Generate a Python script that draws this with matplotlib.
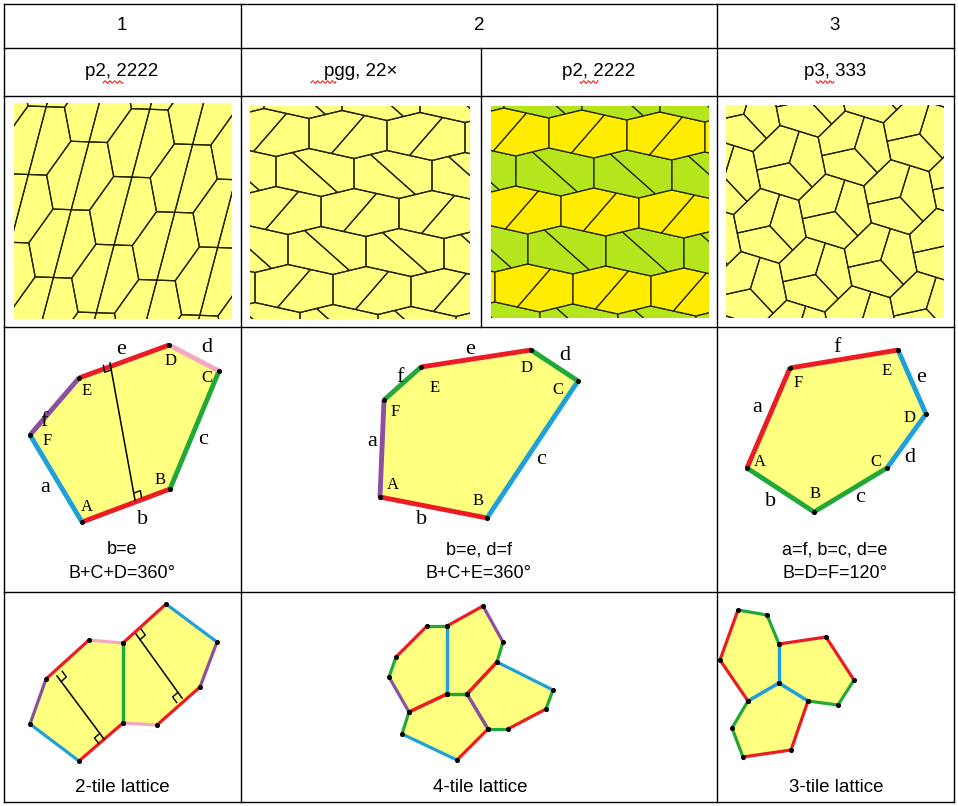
import numpy as np
import matplotlib.pyplot as plt
from matplotlib.patches import Polygon, Rectangle

# ---- data ----
header = ['1', '2', '3']
groups = ['p2, 2222', 'pgg, 22×', 'p2, 2222', 'p3, 333']
captions = [['b=e', 'B+C+D=360°'], ['b=e, d=f', 'B+C+E=360°'], ['a=f, b=c, d=e', 'B=D=F=120°']]
lattice_names = ['2-tile lattice', '4-tile lattice', '3-tile lattice']

RED, BLUE, GREEN, PINK, PURP = '#ec1c24', '#1ea0dc', '#22a83a', '#f4a8bf', '#8f4fa0'
TILE = '#ffff80'

# single pentagons (vertices A..F, edge colours a..f starting with F-A)
pent1 = [(82, 522), (170, 489), (219, 371), (169, 345), (79, 378), (30, 435)]
pent1_cols = [RED, GREEN, PINK, RED, PURP, BLUE]   # AB, BC, CD, DE, EF, FA
pent2 = [(380, 497), (487, 518), (578, 381), (531, 350), (421, 367), (384, 400)]
pent2_cols = [RED, BLUE, GREEN, RED, GREEN, PURP]
pent3 = [(747, 468), (814, 512), (887, 468), (926, 414), (898, 350), (790, 368)]
pent3_cols = [GREEN, GREEN, BLUE, BLUE, RED, RED]

vert_labels = [
    [('A', 87, 507), ('B', 160, 480), ('C', 207, 378), ('D', 171, 361), ('E', 87, 391), ('F', 47, 441)],
    [('A', 393, 485), ('B', 478, 501), ('C', 558, 390), ('D', 527, 368), ('E', 435, 388), ('F', 395, 412)],
    [('A', 760, 462), ('B', 815, 494), ('C', 876, 462), ('D', 910, 418), ('E', 887, 371), ('F', 798, 383)],
]
edge_labels = [
    [('a', 45, 487), ('b', 143, 519), ('c', 203, 440), ('d', 207, 348), ('e', 121, 349), ('f', 44, 422)],
    [('a', 372, 442), ('b', 422, 520), ('c', 541, 460), ('d', 565, 356), ('e', 470, 349), ('f', 400, 377)],
    [('a', 757, 408), ('b', 771, 501), ('c', 860, 498), ('d', 910, 457), ('e', 921, 378), ('f', 837, 348)],
]

# lattice tiles: vertex lists with edge colours (edge i = v[i] -> v[i+1])
lat1 = [
    ([(30, 724), (46, 679), (89, 640), (123, 643), (123, 723), (79, 761)], [PURP, RED, PINK, GREEN, RED, BLUE]),
    ([(123, 643), (166, 604), (217, 642), (200, 687), (157, 725), (123, 723)], [RED, BLUE, PURP, RED, PINK, GREEN]),
]
lat2 = [
    ([(389, 677), (396, 657), (427, 626), (447, 626), (447, 694), (409, 712)], [GREEN, RED, GREEN, BLUE, RED, PURP]),
    ([(447, 626), (483, 606), (503, 642), (497, 662), (467, 694), (447, 694)], [RED, PURP, GREEN, RED, GREEN, BLUE]),
    ([(409, 712), (447, 694), (467, 694), (488, 729), (457, 760), (402, 734)], [RED, GREEN, PURP, RED, BLUE, GREEN]),
    ([(497, 662), (553, 690), (546, 709), (508, 729), (488, 729), (467, 694)], [BLUE, GREEN, RED, GREEN, PURP, RED]),
]
lat3 = [
    ([(738, 610), (767, 615), (779, 644), (779, 683), (748, 701), (720, 660)], [GREEN, GREEN, BLUE, BLUE, RED, RED]),
    ([(779, 644), (826, 637), (854, 680), (838, 705), (808, 701), (779, 683)], [RED, RED, GREEN, GREEN, BLUE, BLUE]),
    ([(779, 683), (808, 701), (791, 750), (743, 757), (732, 728), (748, 701)], [BLUE, RED, RED, GREEN, GREEN, BLUE]),
]

# hexagon shapes used to build the tiling pictures
hex1 = [(20, -38), (-16, -32), (-33, 6), (-20, 38), (16, 32), (33, -6)]
hex2 = [(39, -14), (-6, -24), (-39, -16), (-39, 14), (6, 24), (39, 16)]
hex3 = [(20, -33), (-20, -33), (-38, 0), (-20, 33), (20, 33), (38, 0)]

fig = plt.figure(figsize=(9.58, 8.06), dpi=100)
ax = fig.add_axes([0, 0, 1, 1])
ax.set_xlim(0, 958)
ax.set_ylim(806, 0)
ax.axis('off')

# ---- table grid ----
for y in [4, 48, 96, 327, 592, 802]:
    ax.plot([4, 954], [y, y], color='black', lw=1)
for x in [4, 241, 717, 954]:
    ax.plot([x, x], [4, 802], color='black', lw=1)
ax.plot([481, 481], [48, 327], color='black', lw=1)

sans = 'Liberation Sans'
serif = 'Liberation Serif'
for t, x in zip(header, [122, 479, 835]):
    ax.text(x, 26, t, ha='center', va='center', fontsize=13.5, family=sans)


def wavy(x0, x1, y):
    xs = np.linspace(x0, x1, int((x1 - x0) * 2))
    ax.plot(xs, y + 1.2 * np.sin(xs * 1.3), color='red', lw=0.7)


for t, x, wx in zip(groups, [122, 361, 599, 835], [(103, 123), (311, 336), (580, 598), (816, 834)]):
    ax.text(x, 72, t, ha='center', va='center', fontsize=13.5, family=sans)
    wavy(wx[0], wx[1], 82)


# ---- tiling images ----
def tiling(x0, y0, w, h, hexv, splits, fills=None, rows_alt=None, rot=0.0):
    clip = Rectangle((x0, y0), w, h, facecolor=TILE if fills is None else 'none', edgecolor='none')
    ax.add_patch(clip)
    c, s = np.cos(rot), np.sin(rot)
    R = np.array([[c, -s], [s, c]])
    P = np.array(hexv, float) @ R.T
    t1 = P[0] + P[5]
    t2 = P[0] + P[1]
    cx, cy = x0 + w / 2, y0 + h / 2
    for i in range(-12, 13):
        for j in range(-12, 13):
            ctr = np.array([cx, cy]) + i * t1 + j * t2
            if abs(ctr[0] - cx) > w or abs(ctr[1] - cy) > h:
                continue
            V = P + ctr
            sp = splits if rows_alt is None else rows_alt[j % 2]
            for poly in sp(V, ctr):
                fc = 'none' if fills is None else fills[j % 2]
                pg = Polygon(poly, closed=True, facecolor=fc, edgecolor='#222200', lw=0.9)
                ax.add_patch(pg)
                pg.set_clip_path(clip)


def mid(a, b):
    return (a + b) / 2


def split_two(V, ctr):
    m1, m2 = mid(V[0], V[1]), mid(V[3], V[4])
    return [[m1, V[1], V[2], V[3], m2], [m2, V[4], V[5], V[0], m1]]


def split_two_b(V, ctr):
    m1, m2 = mid(V[1], V[2]), mid(V[4], V[5])
    return [[m1, V[2], V[3], V[4], m2], [m2, V[5], V[0], V[1], m1]]


def split_three(V, ctr):
    m = [mid(V[0], V[1]), mid(V[2], V[3]), mid(V[4], V[5])]
    return [[ctr, m[0], V[1], V[2], m[1]], [ctr, m[1], V[3], V[4], m[2]], [ctr, m[2], V[5], V[0], m[0]]]


tiling(14, 103, 218, 216, hex1, split_two, rot=0.2)
tiling(250, 106, 220, 213, hex2, None, rows_alt=[split_two, split_two_b])
tiling(491, 106, 218, 212, hex2, None, rows_alt=[split_two, split_two_b], fills=['#ffec00', '#b5e61d'])
tiling(726, 105, 218, 213, hex3, split_three, rot=0.3)


# ---- pentagon diagrams ----
def draw_tile(verts, cols, lw=3):
    V = np.array(verts, float)
    ax.add_patch(Polygon(V, closed=True, facecolor=TILE, edgecolor='none'))
    n = len(V)
    for i in range(n):
        a, b = V[i], V[(i + 1) % n]
        ax.plot([a[0], b[0]], [a[1], b[1]], color=cols[i], lw=lw, solid_capstyle='butt')
    ax.scatter(V[:, 0], V[:, 1], s=7, color='black', zorder=5)


def right_angle(p, along, perp, size=7):
    along = np.array(along, float) / np.linalg.norm(along)
    perp = np.array(perp, float) / np.linalg.norm(perp)
    q1 = p + along * size
    q2 = q1 + perp * size
    q3 = p + perp * size
    ax.plot([q1[0], q2[0], q3[0]], [q1[1], q2[1], q3[1]], color='black', lw=1)


def perp_line(p_top, p_bot, edge_top, edge_bot):
    p_top, p_bot = np.array(p_top, float), np.array(p_bot, float)
    ax.plot([p_top[0], p_bot[0]], [p_top[1], p_bot[1]], color='black', lw=1.1)
    d = p_bot - p_top
    right_angle(p_top, np.subtract(edge_top[1], edge_top[0]), d)
    right_angle(p_bot, np.subtract(edge_bot[1], edge_bot[0]), -d)


for pent, cols in [(pent1, pent1_cols), (pent2, pent2_cols), (pent3, pent3_cols)]:
    draw_tile(pent, cols, lw=3.5)
perp_line((110, 363), (135, 500), (pent1[3], pent1[4]), (pent1[0], pent1[1]))

for lst in vert_labels:
    for t, x, y in lst:
        ax.text(x, y, t, ha='center', va='center', fontsize=12, family=serif)
for lst in edge_labels:
    for t, x, y in lst:
        ax.text(x, y, t, ha='center', va='center', fontsize=16, family=serif)

for (l1, l2), x in zip(captions, [122, 479, 835]):
    ax.text(x, 550, l1, ha='center', va='center', fontsize=13, family=sans)
    ax.text(x, 573, l2, ha='center', va='center', fontsize=13, family=sans)

# ---- lattices ----
for lat in (lat1, lat2, lat3):
    for verts, cols in lat:
        draw_tile(verts, cols, lw=2.3)
perp_line((57, 676), (104, 739), (lat1[0][0][1], lat1[0][0][2]), (lat1[0][0][4], lat1[0][0][5]))
perp_line((136, 634), (182, 698), (lat1[1][0][0], lat1[1][0][1]), (lat1[1][0][3], lat1[1][0][4]))

for t, x in zip(lattice_names, [122, 480, 836]):
    ax.text(x, 787, t, ha='center', va='center', fontsize=13.5, family=sans)

fig.savefig('out.png', dpi=100)
